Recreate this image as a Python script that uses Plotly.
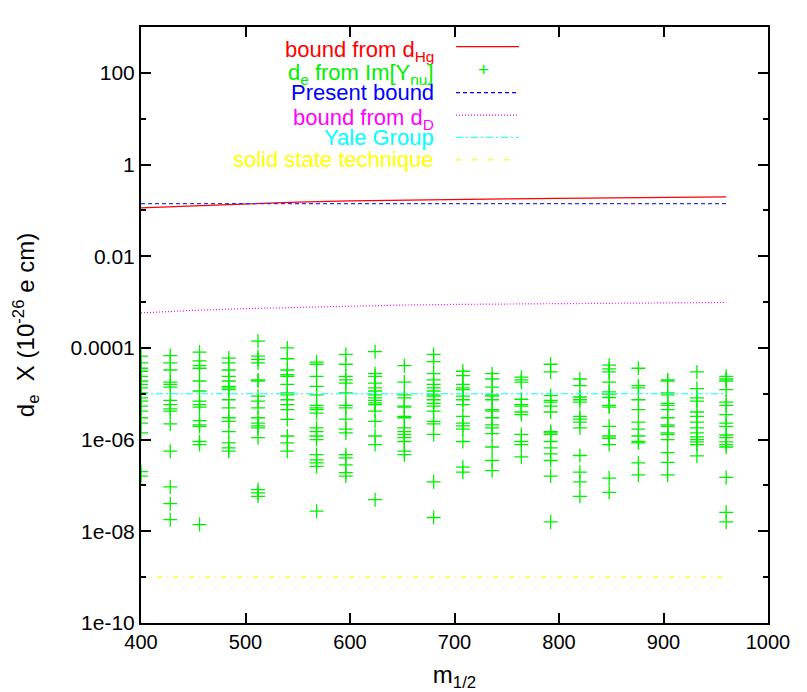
import plotly.graph_objects as go

# m_1/2 grid for the Im[Y_nu] scan
m_half_grid = [400, 428, 456, 484, 512, 540, 568, 596, 624, 652, 680,
               708, 736, 764, 792, 820, 848, 876, 904, 932, 960]

# d_e values (units of 1e-26 e cm), one list per m_1/2 column
de_from_im_ynu = [
    [6.6e-5, 4.7e-5, 3.6e-5, 3.1e-5, 2.4e-5, 1.9e-5, 1.6e-5, 1.35e-5, 1.05e-5, 8.1e-6,
     6.9e-6, 5.4e-6, 4.2e-6, 3.0e-6, 2.3e-6, 1.4e-6, 2.0e-7, 1.6e-7],
    [6.8e-5, 4.7e-5, 3.3e-5, 1.8e-5, 1.6e-5, 1.4e-5, 7.2e-6, 5.8e-6, 4.7e-6, 4.2e-6,
     2.2e-6, 5.6e-7, 9.3e-8, 4.0e-8, 1.8e-8],
    [8.1e-5, 5.2e-5, 4.1e-5, 3.6e-5, 1.9e-5, 1.15e-5, 6.9e-6, 5.8e-6, 5.1e-6, 2.6e-6,
     2.1e-6, 1.95e-6, 9.1e-7, 7.8e-7, 1.4e-8],
    [6.0e-5, 4.7e-5, 3.3e-5, 2.4e-5, 1.9e-5, 1.45e-5, 1.35e-5, 1.23e-5, 7.4e-6, 4.9e-6,
     3.0e-6, 2.5e-6, 1.5e-6, 8.5e-7, 6.6e-7, 5.6e-7],
    [1.4e-4, 6.6e-5, 5.6e-5, 4.7e-5, 2.0e-5, 1.9e-5, 8.9e-6, 6.9e-6, 4.9e-6, 3.0e-6,
     2.3e-6, 2.0e-6, 1.8e-6, 1.1e-6, 8.1e-8, 6.9e-8, 5.8e-8],
    [1.0e-4, 5.8e-5, 3.3e-5, 2.6e-5, 2.4e-5, 1.6e-5, 1.05e-5, 9.5e-6, 7.4e-6, 5.8e-6,
     4.5e-6, 2.75e-6, 1.2e-6, 8.5e-7, 5.6e-7],
    [4.9e-5, 4.4e-5, 2.4e-5, 1.45e-5, 9.5e-6, 5.6e-6, 4.9e-6, 4.5e-6, 3.8e-6, 1.8e-6,
     1.5e-6, 1.2e-6, 1.0e-6, 4.7e-7, 3.6e-7, 3.1e-7, 2.6e-7, 2.75e-8],
    [7.2e-5, 4.4e-5, 2.4e-5, 2.0e-5, 1.7e-5, 1.05e-5, 5.6e-6, 4.9e-6, 2.8e-6, 1.7e-6,
     1.4e-6, 4.7e-7, 4.0e-7, 2.8e-7, 1.9e-7, 1.6e-7],
    [8.3e-5, 2.75e-5, 2.4e-5, 1.7e-5, 1.35e-5, 1.15e-5, 9.5e-6, 8.1e-6, 7.2e-6, 6.3e-6,
     5.8e-6, 4.2e-6, 2.5e-6, 1.2e-6, 7.8e-7, 4.9e-8],
    [4.1e-5, 1.8e-5, 9.5e-6, 8.1e-6, 5.4e-6, 5.1e-6, 3.2e-6, 3.0e-6, 1.8e-6, 1.5e-6,
     1.3e-6, 1.1e-6, 9.1e-7, 5.6e-7, 4.7e-7],
    [7.2e-5, 5.0e-5, 2.75e-5, 2.0e-5, 1.6e-5, 1.35e-5, 1.15e-5, 9.5e-6, 8.9e-6, 7.4e-6,
     6.2e-6, 5.4e-6, 4.2e-6, 2.5e-6, 2.2e-6, 1.3e-6, 1.2e-7, 2.0e-8],
    [3.1e-5, 2.5e-5, 1.6e-5, 1.35e-5, 1.23e-5, 8.9e-6, 7.4e-6, 5.8e-6, 3.2e-6, 2.3e-6,
     2.0e-6, 1.7e-6, 9.1e-7, 2.5e-7, 1.95e-7],
    [2.75e-5, 2.1e-5, 1.4e-5, 9.5e-6, 8.9e-6, 7.4e-6, 4.5e-6, 4.2e-6, 3.0e-6, 2.1e-6,
     1.8e-6, 1.35e-6, 6.9e-7, 3.5e-7, 2.1e-7],
    [2.3e-5, 2.0e-5, 1.8e-5, 7.6e-6, 5.8e-6, 5.4e-6, 4.0e-6, 3.5e-6, 1.3e-6, 9.1e-7,
     7.8e-7, 4.2e-7],
    [4.4e-5, 3.0e-5, 9.1e-6, 7.2e-6, 6.6e-6, 5.4e-6, 4.0e-6, 1.5e-6, 1.4e-6, 1.3e-6,
     9.1e-7, 6.6e-7, 4.9e-7, 3.5e-7, 1.6e-7, 1.6e-8],
    [2.1e-5, 1.5e-5, 8.5e-6, 7.4e-6, 6.6e-6, 3.2e-6, 2.8e-6, 2.4e-6, 1.8e-6, 4.5e-7,
     1.95e-7, 1.2e-7, 5.8e-8],
    [4.2e-5, 3.5e-5, 3.0e-5, 1.8e-5, 1.1e-5, 9.8e-6, 8.3e-6, 5.6e-6, 5.1e-6, 1.95e-6,
     1.2e-6, 1.07e-6, 7.8e-7, 1.45e-7, 7.1e-8],
    [3.6e-5, 1.5e-5, 1.35e-5, 7.4e-6, 4.5e-6, 2.4e-6, 1.7e-6, 1.2e-6, 9.1e-7, 8.5e-7,
     3.1e-7, 1.7e-7],
    [2.0e-5, 1.9e-5, 1.05e-5, 9.5e-6, 6.2e-6, 5.6e-6, 4.5e-6, 3.0e-6, 2.1e-6, 1.95e-6,
     1.4e-6, 1.3e-6, 1.0e-6, 5.2e-7, 3.2e-7, 1.7e-7],
    [3.0e-5, 1.3e-5, 8.1e-6, 6.9e-6, 4.0e-6, 3.2e-6, 2.4e-6, 1.8e-6, 1.4e-6, 1.15e-6,
     1.0e-6, 8.9e-7, 7.8e-7, 4.4e-7],
    [2.4e-5, 2.1e-5, 1.9e-5, 1.23e-5, 6.6e-6, 5.6e-6, 3.5e-6, 2.3e-6, 1.95e-6, 1.26e-6,
     1.1e-6, 8.9e-7, 7.8e-7, 6.9e-7, 1.5e-7, 2.6e-8, 1.6e-8],
]

# bound curves
m_curve = [400, 450, 500, 550, 600, 650, 700, 750, 800, 850, 900, 960]
bound_hg = [0.113, 0.126, 0.140, 0.152, 0.162, 0.169, 0.175, 0.179, 0.183, 0.188, 0.192, 0.197]
bound_d = [5.8e-4, 6.6e-4, 7.2e-4, 7.7e-4, 8.2e-4, 8.6e-4, 8.9e-4, 9.1e-4, 9.3e-4, 9.5e-4, 9.6e-4, 9.8e-4]
m_flat = [400, 960]
present_bound = [0.14, 0.14]
yale_group = [1e-5, 1e-5]
solid_state = [1e-9, 1e-9]

y_major = [1e-10, 1e-8, 1e-6, 1e-4, 1e-2, 1, 100]
y_major_text = ['1e-10', '1e-08', '1e-06', '0.0001', '0.01', '1', '100']
y_minor = [1e-9, 1e-7, 1e-5, 1e-3, 1e-1, 10, 1000]

FONT = 'Liberation Sans, Arial, Helvetica, sans-serif'
GREEN = '#00f000'
YELLOW = '#ffff00'

fig = go.Figure()

scatter_x, scatter_y = [], []
for m, col in zip(m_half_grid, de_from_im_ynu):
    scatter_x += [m] * len(col)
    scatter_y += col

fig.add_trace(go.Scatter(x=m_curve, y=bound_hg, mode='lines',
                         line=dict(color='#ff0000', width=1.2)))
fig.add_trace(go.Scatter(x=scatter_x, y=scatter_y, mode='markers',
                         marker=dict(symbol='cross-thin', size=10,
                                     line=dict(color=GREEN, width=1.3))))
fig.add_trace(go.Scatter(x=m_flat, y=present_bound, mode='lines',
                         line=dict(color='#3030ff', width=1.2, dash='4px,3px')))
fig.add_trace(go.Scatter(x=m_curve, y=bound_d, mode='lines',
                         line=dict(color='#ff00ff', width=1.2, dash='1px,2px')))
fig.add_trace(go.Scatter(x=m_flat, y=yale_group, mode='lines',
                         line=dict(color='#00ffff', width=1.2, dash='7px,3px,2px,3px')))
fig.add_trace(go.Scatter(x=m_flat, y=solid_state, mode='lines',
                         line=dict(color=YELLOW, width=1.2, dash='5px,5px,1px,5px')))

# gnuplot style key: right-aligned text, sample to the right
legend_rows = [
    ('bound from d<sub>Hg</sub>', '#ff0000', 'solid'),
    ('d<sub>e</sub> from Im[Y<sub>nu</sub>]', GREEN, 'plus'),
    ('Present bound', '#0000ff', '4px,3px'),
    ('bound from d<sub>D</sub>', '#ff00ff', '1px,2px'),
    ('Yale Group', '#00ffff', '7px,3px,2px,3px'),
    ('solid state technique', YELLOW, '5px,5px,1px,5px'),
]
row_y = [0.967, 0.928, 0.890, 0.852, 0.815, 0.777]
for (label, color, style), yy in zip(legend_rows, row_y):
    has_sub = '<sub>' in label
    fig.add_annotation(x=0.4705, y=yy, xref='paper', yref='paper', text=label,
                       showarrow=False, xanchor='right', yanchor='middle',
                       yshift=-4 if has_sub else 0,
                       font=dict(family=FONT, size=22, color=color))
    if style == 'plus':
        fig.add_annotation(x=0.5455, y=yy, xref='paper', yref='paper', text='+',
                           showarrow=False, xanchor='center', yanchor='middle',
                           font=dict(family=FONT, size=19, color=color))
    else:
        fig.add_shape(type='line', xref='paper', yref='paper', x0=0.5024, x1=0.6029,
                      y0=yy, y1=yy,
                      line=dict(color=color, width=1.2,
                                dash=None if style == 'solid' else style))

fig.update_layout(
    width=807, height=692,
    margin=dict(l=141, r=39, t=27, b=69),
    paper_bgcolor='white', plot_bgcolor='white',
    showlegend=False,
    font=dict(family=FONT, size=20, color='black'),
    xaxis=dict(
        range=[400, 1000], tickvals=[400, 500, 600, 700, 800, 900, 1000],
        showline=True, linecolor='black', linewidth=2, mirror='allticks',
        ticks='inside', ticklen=10, tickwidth=2, tickcolor='black',
        showgrid=False, zeroline=False, automargin=False,
        tickfont=dict(family=FONT, size=20),
        title=dict(text='m<sub>1/2</sub>', standoff=16),
    ),
    yaxis=dict(
        type='log', range=[-10, 3],
        tickvals=y_major, ticktext=y_major_text,
        showline=True, linecolor='black', linewidth=2, mirror='allticks',
        ticks='inside', ticklen=10, tickwidth=2, tickcolor='black',
        minor=dict(tickvals=y_minor, ticks='inside', ticklen=5, tickwidth=2,
                   tickcolor='black', showgrid=False),
        showgrid=False, zeroline=False, automargin=False,
        tickfont=dict(family=FONT, size=21),
        title=dict(text='d<sub>e</sub>  X (10<sup>-26</sup> e cm)', standoff=29),
    ),
)

fig.write_html("out.html", config={'displayModeBar': False},
               post_script="document.body.style.margin='0px';")
